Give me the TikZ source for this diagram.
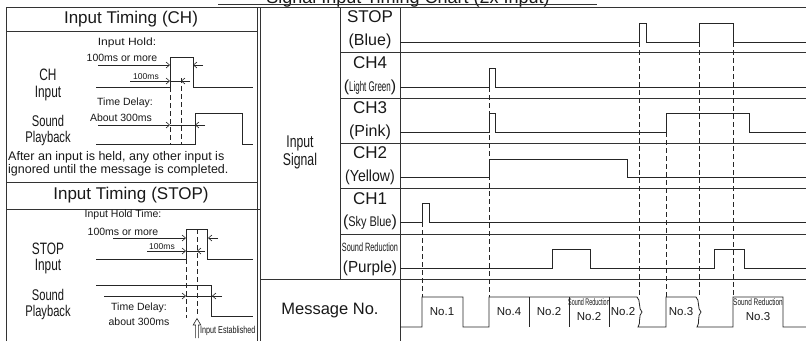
\documentclass[tikz,border=0pt]{standalone}
\usepackage{fontspec}
\setmainfont{Liberation Sans}
\newfontfamily\narrowfont[FakeStretch=0.72]{Liberation Sans}
\usetikzlibrary{arrows.meta}
\newcommand{\fs}[1]{\fontsize{#1}{#1}\selectfont}
\newcommand{\sqz}[2]{\scalebox{#1}[1]{#2}}
\begin{document}
\begin{tikzpicture}[x=1pt,y=-1pt,
  ln/.style={line width=0.8pt, black!80},
  sig/.style={line width=0.8pt, black!85, line join=miter},
  dsh/.style={line width=0.7pt, black!85, dash pattern=on 5pt off 3pt},
  arr/.style={line width=0.6pt, black!85, -{Straight Barb[length=3.5pt,width=6pt]}},
  thinln/.style={line width=0.6pt, black!85},
  txt/.style={inner sep=0pt, text=black!90},
  hdr/.style={txt, font=\fs{17}},
  big/.style={txt, font=\fs{17}},
  sub/.style={txt, font=\fs{16}},
  nar/.style={txt, font=\narrowfont\fs{16.5}},
  nars/.style={txt, font=\narrowfont\fs{15.5}},
  sml/.style={txt, font=\fs{10.5}},
  tiny/.style={txt, font=\fs{8.5}},
  msg/.style={txt, font=\fs{11.5}},
]
\useasboundingbox (0,0) rectangle (806,341);
\clip (0,0) rectangle (806,341);
\fill[white] (0,0) rectangle (806,341);

% title (cut at top)
\node[txt, anchor=base, font=\fs{18}] (title) at (408,3) {Signal Input Timing Chart (2x Input)};
\draw[ln] (218,4) -- (597,4);

% frames
\draw[ln] (6,341) -- (6,7) -- (806,7);
\draw[ln] (257,7) -- (257,341);
\draw[ln] (260,7) -- (260,341);
\draw[ln] (6,31) -- (257,31);
\draw[ln] (6,182) -- (257,182);
\draw[ln] (6,209) -- (260,209);
\draw[ln] (340,7) -- (340,279);
\draw[ln] (400,7) -- (400,341);
\foreach \yy in {52,98,143,188,234} \draw[ln] (340,\yy) -- (806,\yy);
\draw[ln] (260,279) -- (806,279);

% ===== left top panel =====
\node[hdr] (hch) at (131,19) {Input Timing\hspace{0.3em}(CH)\hspace{0.2em}};
\node[nar] (chA) at (48,75) {CH};
\node[nar] (chB) at (48,94) {Input};
\node[nars] (spA) at (48,121) {Sound};
\node[nars] (spB) at (48,138) {Playback};
\node[sml] (ih1) at (127,43) {\sqz{1.15}{Input Hold:}};
\node[sml] (ih2) at (122,58) {100ms or more};
\node[tiny] (ih3) at (146,77) {100ms};
\node[sml] (td1) at (125,103) {Time Delay:};
\node[sml] (td2) at (121,118) {About 300ms};
\node[txt, font=\fs{12.5}, anchor=west] (nt1) at (8,157) {After an input is held, any other input is};
\node[txt, font=\fs{12.5}, anchor=west] (nt2) at (8,170) {ignored until the message is completed.};

\draw[sig] (96,87) -- (170,87) -- (170,57) -- (193,57) -- (193,87) -- (253,87);
\draw[arr] (98,65) -- (170,65);
\draw[arr] (203,65) -- (193,65);
\draw[arr] (130,81) -- (170,81);
\draw[thinln] (170,81) -- (190,81);
\draw[arr] (190,81) -- (181,81);
\draw[dsh] (170,87) -- (170,145);
\draw[dsh] (181,78) -- (181,145);
\draw[sig] (96,144) -- (195,144) -- (195,113) -- (242,113) -- (242,144) -- (253,144);
\draw[arr] (98,125) -- (170,125);
\draw[thinln] (170,125) -- (205,125);
\draw[arr] (205,125) -- (195,125);

% ===== left bottom panel =====
\node[hdr] (hst) at (131,195) {Input Timing\hspace{0.3em}(STOP)\hspace{0.2em}};
\node[nar] (stA) at (48,249) {STOP};
\node[nar] (stB) at (48,267) {Input};
\node[nars] (sbA) at (48,295) {Sound};
\node[nars] (sbB) at (48,312) {Playback};
\node[sml] (bh1) at (123,215) {Input Hold Time:};
\node[sml] (bh2) at (123,232) {100ms or more};
\node[tiny] (bh3) at (162,247) {100ms};
\node[sml] (bd1) at (139,308) {Time Delay:};
\node[sml] (bd2) at (139,322) {about 300ms};
\node[txt, anchor=west, font=\narrowfont\fs{10}] (est) at (200,331) {Input Established};

\draw[sig] (96,259) -- (186,259) -- (186,229) -- (207,229) -- (207,259) -- (253,259);
\draw[arr] (113,238) -- (186,238);
\draw[arr] (218,238) -- (208,238);
\draw[arr] (147,251) -- (186,251);
\draw[thinln] (186,251) -- (205,251);
\draw[arr] (205,251) -- (197,251);
\draw[dsh] (186,259) -- (186,318);
\draw[dsh] (197,229) -- (197,316);
\draw[sig] (96,285) -- (211,285) -- (211,316) -- (253,316);
\draw[arr] (104,296) -- (186,296);
\draw[thinln] (186,296) -- (222,296);
\draw[arr] (222,296) -- (212,296);
% outline up arrow (Input Established)
\draw[line width=0.6pt, black!85, line join=miter] (195.6,338) -- (195.6,325) -- (193.2,325) -- (197,318.5) -- (200.8,325) -- (198.4,325) -- (198.4,338);

% ===== right panel labels =====
\node[txt, font=\narrowfont\fs{17}] (isA) at (300,143) {Input};
\node[txt, font=\narrowfont\fs{17}] (isB) at (300,161) {Signal};
\node[txt, font=\fs{16.5}] (mno) at (330,311) {Message No.};

\node[big] (l1a) at (370,17) {STOP};
\node[sub] (l1b) at (370,41) {(Blue)};
\node[big] (l2a) at (370,63) {CH4};
\node[sub] (l2b) at (370,87) {(\sqz{0.57}{\fs{14}Light Green})};
\node[big] (l3a) at (370,108) {CH3};
\node[sub] (l3b) at (370,132) {(Pink)};
\node[big] (l4a) at (370,153) {CH2};
\node[sub] (l4b) at (370,177) {\sqz{0.88}{(Yellow)}};
\node[big] (l5a) at (370,199) {CH1};
\node[sub] (l5b) at (370,222) {(\sqz{0.78}{\fs{14}Sky Blue})};
\node[txt] (l6a) at (370,247) {\sqz{0.61}{\fs{12}Sound Reduction}};
\node[sub] (l6b) at (370,268) {\sqz{0.95}{(Purple)}};

% ===== signals =====
\draw[sig] (400,42) -- (639,42) -- (639,23) -- (646,23) -- (646,42) -- (699,42) -- (699,23) -- (733,23) -- (733,42) -- (806,42);
\draw[sig] (400,87) -- (489,87) -- (489,68) -- (495,68) -- (495,87) -- (806,87);
\draw[sig] (400,132) -- (489,132) -- (489,113) -- (495,113) -- (495,132) -- (666,132) -- (666,113) -- (749,113) -- (749,132) -- (806,132);
\draw[sig] (400,177) -- (489,177) -- (489,159) -- (627,159) -- (627,177) -- (806,177);
\draw[sig] (400,222) -- (422,222) -- (422,203) -- (429,203) -- (429,222) -- (806,222);
\draw[sig] (400,268) -- (552,268) -- (552,249) -- (590,249) -- (590,268) -- (714,268) -- (714,249) -- (744,249) -- (744,268) -- (806,268);

% message row
\draw[sig] (400,327) -- (422,327) -- (422,297) -- (463,297) -- (463,327) -- (489,327) -- (489,297) -- (637,297)
  .. controls (641,300) and (638,309) .. (642,312) .. controls (638,315) and (641,324) .. (638,327)
  -- (666,327) -- (666,297) -- (696,297)
  .. controls (700,300) and (697,309) .. (701,312) .. controls (697,315) and (700,324) .. (697,327)
  -- (733,327) -- (733,297) -- (783,297) -- (783,327) -- (806,327);
\foreach \xx in {529,569,609} \draw[sig] (\xx,297) -- (\xx,327);

\node[msg] (m1) at (442,312) {No.1};
\node[msg] (m2) at (509,312) {No.4};
\node[msg] (m3) at (549,312) {No.2};
\node[txt] (m4a) at (589,302) {\sqz{0.57}{\fs{9.5}Sound Reduction}};
\node[msg] (m4b) at (589,317) {No.2};
\node[msg] (m5) at (623,312) {No.2};
\node[msg] (m6) at (681,312) {No.3};
\node[txt] (m7a) at (758,302) {\sqz{0.68}{\fs{9.5}Sound Reduction}};
\node[msg] (m7b) at (758,317) {No.3};

% dashed guides
\draw[dsh] (422,222) -- (422,297);
\draw[dsh] (489,87) -- (489,297);
\draw[dsh] (639,42) -- (639,297);
\draw[dsh] (666,132) -- (666,297);
\draw[dsh] (699,42) -- (699,297);
\draw[dsh] (733,42) -- (733,297);
\end{tikzpicture}
\end{document}
